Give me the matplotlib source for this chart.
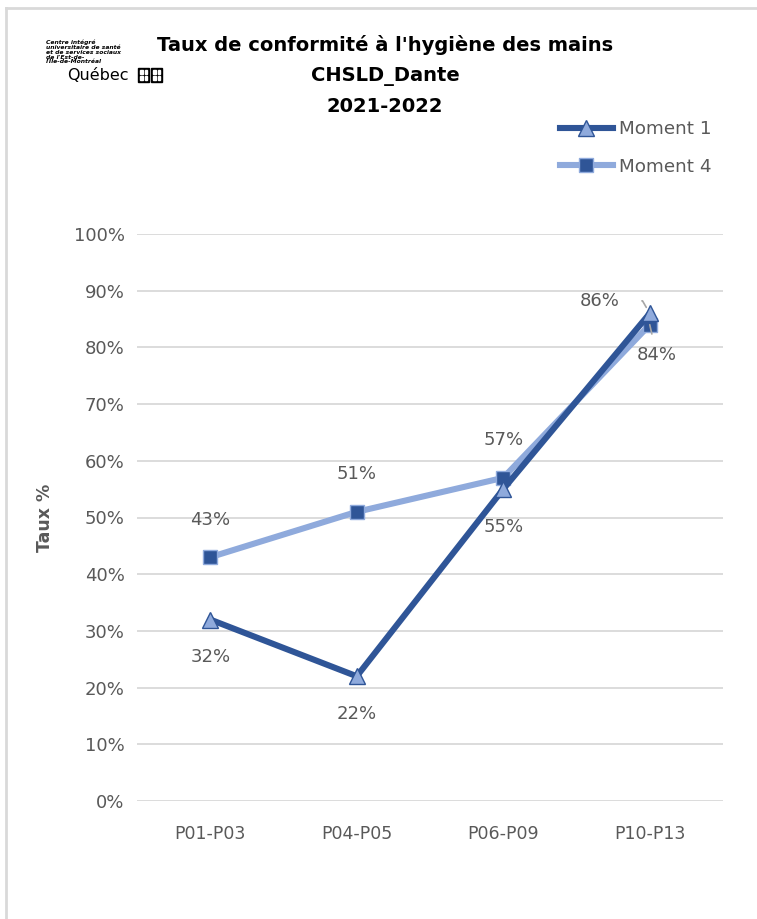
import matplotlib as mpl, matplotlib.pyplot as plt
from matplotlib.lines import Line2D
from matplotlib.patches import Rectangle
mpl.rcParams.update({'font.family': ['DejaVu Sans'], 'axes.unicode_minus': False})

categories = ['P01-P03', 'P04-P05', 'P06-P09', 'P10-P13']
moment1 = [32, 22, 55, 86]
moment4 = [43, 51, 57, 84]
yticks = list(range(0, 101, 10))

DARK = '#2F5597'
LIGHT = '#8FAADC'
GRAY = '#595959'

W, H = 757, 919
fig = plt.figure(figsize=(W/100, H/100), dpi=100)
ax = fig.add_axes([137/W, 1-801/H, 586/W, (801-234)/H])
x = list(range(len(categories)))

ax.plot(x, moment4, color=LIGHT, lw=4.4, marker='s', ms=10.5, mfc=DARK, mec=LIGHT, mew=1, zorder=3, solid_capstyle='round')
ax.plot(x, moment1, color=DARK, lw=4.4, marker='^', ms=11.5, mfc=LIGHT, mec=DARK, mew=1, zorder=4, solid_capstyle='round')

ax.set_xlim(-0.5, 3.5)
ax.set_ylim(0, 100)
ax.set_yticks(yticks)
ax.set_yticklabels([f'{v}%' for v in yticks], fontsize=13, color=GRAY)
ax.set_xticks(x)
ax.set_xticklabels(categories, fontsize=12.5, color=GRAY)
ax.tick_params(axis='y', length=0, pad=9)
ax.tick_params(axis='x', length=0, pad=17)
ax.grid(axis='y', color='#D9D9D9', lw=1.3)
ax.set_axisbelow(True)
for s in ax.spines.values():
    s.set_visible(False)
ax.set_ylabel('Taux %', fontsize=12.5, fontweight='bold', color=GRAY, labelpad=14)

# étiquettes de données
lab = dict(fontsize=13, color=GRAY, ha='center', va='center')
for i in range(3):
    ax.annotate(f'{moment1[i]}%', (i, moment1[i]), xytext=(0, -27), textcoords='offset points', **lab)
    ax.annotate(f'{moment4[i]}%', (i, moment4[i]), xytext=(0, 27), textcoords='offset points', **lab)
ax.annotate(f'{moment1[3]}%', (3, moment1[3]), xytext=(-36, 9), textcoords='offset points',
            arrowprops=dict(arrowstyle='-', color='#A6A6A6', lw=1.2, connectionstyle='angle,angleA=0,angleB=-60',
                            shrinkA=14, shrinkB=5), **lab)
ax.annotate(f'{moment4[3]}%', (3, moment4[3]), xytext=(5, -22), textcoords='offset points',
            arrowprops=dict(arrowstyle='-', color='#A6A6A6', lw=1.2, shrinkA=7, shrinkB=7), **lab)

# titre
for t, y in [("Taux de conformité à l'hygiène des mains", 45), ('CHSLD_Dante', 76), ('2021-2022', 107)]:
    fig.text(385/W, 1-y/H, t, fontsize=14, fontweight='bold', ha='center', va='center')

# légende
handles = [Line2D([], [], color=DARK, lw=4.4, marker='^', ms=11, mfc=LIGHT, mec=DARK),
           Line2D([], [], color=LIGHT, lw=4.4, marker='s', ms=10, mfc=DARK, mec=LIGHT)]
leg = fig.legend(handles, ['Moment 1', 'Moment 4'], loc='center left', bbox_to_anchor=(543/W, 1-148/H),
                 frameon=False, fontsize=13.2, handlelength=2.9, labelspacing=1.05, handletextpad=0.35)
for t in leg.get_texts():
    t.set_color(GRAY)

# logo
fig.text(46/W, 1-52/H, "Centre intégré\nuniversitaire de santé\net de services sociaux\nde l'Est-de-\nl'Île-de-Montréal",
         fontsize=4.3, fontweight='bold', style='italic', ha='left', va='center', linespacing=0.95)
fig.text(67/W, 1-76/H, 'Québec', fontsize=11.5, ha='left', va='center')
for bx in (138, 151):
    fig.patches.append(Rectangle((bx/W, 1-82/H), 11/W, 14/H, transform=fig.transFigure, color='black'))
    for dx in (2, 6.5):
        for dy in (2, 8):
            fig.patches.append(Rectangle(((bx+dx)/W, 1-(82-dy)/H), 2.5/W, 4/H, transform=fig.transFigure, color='white'))

# cadre
fig.add_artist(Line2D([6/W, 6/W], [0, 1-8/H], transform=fig.transFigure, color='#D9D9D9', lw=2))
fig.add_artist(Line2D([6/W, 1], [1-8/H, 1-8/H], transform=fig.transFigure, color='#D9D9D9', lw=2))

fig.savefig('out.png', dpi=100)
